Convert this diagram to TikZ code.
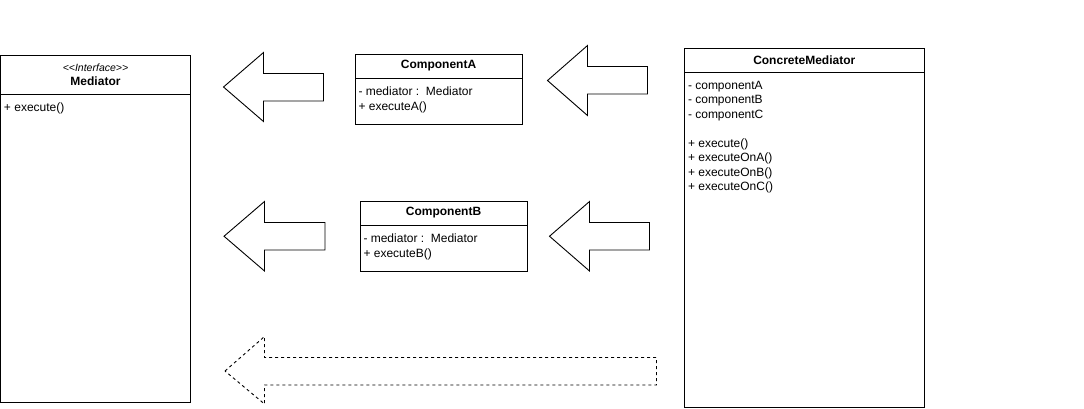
\documentclass[tikz,border=0pt]{standalone}
\usepackage{fontspec}
\setmainfont{Liberation Sans}
\usetikzlibrary{positioning}

\begin{document}
\begin{tikzpicture}[x=1pt, y=-1pt, line width=0.9pt,
	classhead/.style={draw, inner sep=0pt, align=center, font=\fontsize{12}{14.5}\selectfont\bfseries},
	classbody/.style={draw, inner sep=0pt},
	members/.style={anchor=north west, align=left, inner xsep=3.5pt, inner ysep=0pt, yshift=-8pt, font=\fontsize{12}{14.5}\selectfont},
	blockarrow/.style={draw, line join=miter},
	dashedarrow/.style={blockarrow, dash pattern=on 3pt off 3pt}]
			\useasboundingbox (0,0) rectangle (1084,408);
			% classes
			\node[classhead, minimum width=190pt, minimum height=39pt] (medhead) at (95.5,74.5)
				{{\fontsize{10.5}{12}\selectfont\mdseries\itshape <\kern0pt<Interface>\kern0pt>}\\ Mediator};
			\node[classbody, minimum width=190pt, minimum height=308pt, below=0pt of medhead] (medbody) {};
			\node[members] (medops) at (medbody.north west) {+ execute()};

			\node[classhead, minimum width=167pt, minimum height=24pt] (comphead a) at (438.5,66) {ComponentA};
			\node[classbody, minimum width=167pt, minimum height=45.5pt, below=0pt of comphead a] (compbody a) {};
			\node[members] (compops a) at (compbody a.north west) {- mediator :\ \ Mediator\\ + executeA()};

			\node[classhead, minimum width=167pt, minimum height=24pt] (comphead b) at (443.5,213) {ComponentB};
			\node[classbody, minimum width=167pt, minimum height=46pt, below=0pt of comphead b] (compbody b) {};
			\node[members] (compops b) at (compbody b.north west) {- mediator :\ \ Mediator\\ + executeB()};

			\node[classhead, minimum width=239.5pt, minimum height=24pt] (conchead) at (804.25,60) {ConcreteMediator};
			\node[classbody, minimum width=239.5pt, minimum height=335pt, below=0pt of conchead] (concbody) {};
			\node[members] (concops) at (concbody.north west)
				{- componentA\\ - componentB\\ - componentC\\[14.5pt] + execute()\\ + executeOnA()\\ + executeOnB()\\ + executeOnC()};

			% arrows
			\draw[blockarrow] (223.5,87) -- (263.5,52.5) -- (263.5,73.5) -- (323.5,73.5)
				-- (323.5,101) -- (263.5,101) -- (263.5,121.5) -- cycle;
			\draw[blockarrow] (547.5,80.5) -- (587.5,45.5) -- (587.5,66.5) -- (647.5,66.5)
				-- (647.5,94) -- (587.5,94) -- (587.5,115.5) -- cycle;
			\draw[blockarrow] (224,236.25) -- (264.5,201.5) -- (264.5,222.5) -- (325,222.5)
				-- (325,250) -- (264.5,250) -- (264.5,271) -- cycle;
			\draw[blockarrow] (549.5,236.25) -- (589.5,201.5) -- (589.5,222.5) -- (649.5,222.5)
				-- (649.5,250) -- (589.5,250) -- (589.5,271) -- cycle;
			\draw[dashedarrow] (225,371) -- (264.5,336.5) -- (264.5,357.5) -- (656.5,357.5)
				-- (656.5,385) -- (264.5,385) -- (264.5,404) -- cycle;
		\end{tikzpicture}
\end{document}
